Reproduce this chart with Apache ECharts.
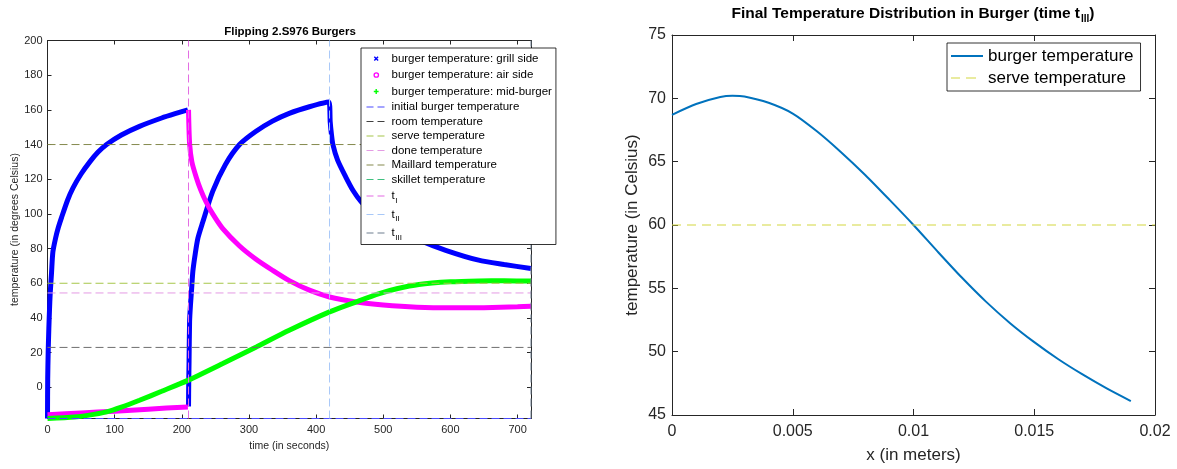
<!DOCTYPE html>
<html><head><meta charset="utf-8">
<script src="https://cdn.jsdelivr.net/npm/echarts@6/dist/echarts.min.js"></script>
<style>html,body{margin:0;padding:0;background:#fff}#c{width:1177px;height:469px}</style>
</head><body><div id="c"></div>
<script>
// ---------- Left chart data: Flipping 2.S976 Burgers ----------
const grillTime1 = [0,0.3,1,2,3,4,6,8,12,16,21,30,38,50,63,75,88,110,137,170,190,209];
const grillTemp1 = [-18,5,20,34,45,54,66,78,86,92,98,108,115,123,130,135.5,140,145.5,150.5,155.3,157.8,160];
const grillTime2 = [210,210.3,210.8,211.6,213,214.5,216.5,220,224,231,246,265,286,310,335,360,390,419,421,422.5,425,432,444,455,467,480,500,525,553,593,642,680,720];
const grillTemp2 = [-11,2,15,38,48,56,67,77,86,95,113,128.5,140,147.5,153.5,158,161.8,164.5,153,147,140,131,121.4,113.5,107,102,96.5,90.5,85,79,73.3,70.8,68.5];
const airTime1 = [0,50,100,150,209];
const airTemp1 = [-15.8,-14.8,-13.8,-12.6,-11.3];
const airTime2 = [210,211.6,215,221.6,228,236,246,261,286,310,335,360,390,420,460,500,550,600,650,700,720];
const airTemp2 = [160,140.6,130,121,114,107,100,91.5,81.5,74,67.5,61.5,56,52.1,49.2,47.5,46.2,45.8,45.9,46.4,46.7];
const midTime = [0,40,60,88,110,137,170,209,261,311,360,420,460,494,520,553,600,642,680,720];
const midTemp = [-18,-17.1,-16.2,-14.2,-11.5,-7.5,-2.3,4,13.7,23.3,32.9,43.5,49.3,54,56.8,59.3,60.8,61.3,61.4,61.3];
const initialTemp = -18, roomTemp = 23, serveTemp = 60, doneTemp = 54.4, maillardTemp = 140, skilletTemp = 230;
const tI = 210, tII = 420, tIII = 720;
const timeMax = 720, tempMin = -18, tempMax = 200;
const tempTicks = [0,20,40,60,80,100,120,140,160,180,200];
const leftLegendNames = ['burger temperature: grill side','burger temperature: air side','burger temperature: mid-burger',
  'initial burger temperature','room temperature','serve temperature','done temperature','Maillard temperature',
  'skillet temperature','t_I','t_II','t_III'];

// ---------- Right chart data: Final Temperature Distribution ----------
const xPositions = [0,0.001,0.002,0.0025,0.003,0.004,0.005,0.006,0.007,0.008,0.009,0.01,0.011,0.012,0.013,0.014,0.015,0.016,0.017,0.018,0.019];
const finalTemps = [68.7,69.55,70.1,70.2,70.15,69.65,68.8,67.4,65.75,63.95,62.0,60.0,57.9,55.85,53.95,52.25,50.75,49.4,48.2,47.1,46.1];
const rightServeTemp = 60;

const FONT = '"Liberation Sans", Helvetica, Arial, sans-serif';
const AX = '#262626';
function zip(a, b) { return a.map((v, i) => [v, b[i]]); }
function hline(v, x0, x1) { return [[x0, v], [x1, v]]; }
function vline(v, y0, y1) { return [[v, y0], [v, y1]]; }

const colors = {
  grill: '#0000ff', air: '#ff00ff', mid: '#00ff00',
  initial: '#4a4aff', room: '#6e6e6e', serve: '#a6c64a', done: '#e49be4',
  maillard: '#858a4e', skillet: '#3fbf7f', tI: '#e36be3', tII: '#a8c8f8', tIII: '#6f7f90',
  burger: '#0072bd', serveR: '#d4d840'
};

const dashIcon = 'path://M0,0M20,10M0,4.5H7V5.5H0Z M11,4.5H18V5.5H11Z';
function axisCommon(extra) {
  return Object.assign({
    axisLine: { show: true, onZero: false, lineStyle: { color: AX, width: 1 } },
    axisTick: { show: true, inside: true, length: 4, lineStyle: { color: AX } },
    splitLine: { show: false }
  }, extra);
}

const curve = (name, data, color) => ({
  name, type: 'line', data, xAxisIndex: 0, yAxisIndex: 0, symbol: 'none', silent: true,
  smooth: 0.25, lineStyle: { color, width: 5 }, itemStyle: { color }
});
const dashedSeries = (name, data, color) => ({
  name, type: 'line', data, xAxisIndex: 0, yAxisIndex: 0, symbol: 'none', silent: true,
  lineStyle: { color, width: 1, type: [8, 4] }, itemStyle: { color }
});

const option = {
  animation: false,
  backgroundColor: '#fff',
  textStyle: { fontFamily: FONT },
  title: [
    { text: 'Flipping 2.S976 Burgers', left: 290, top: 32, textAlign: 'center', textVerticalAlign: 'middle', padding: 0,
      textStyle: { fontFamily: FONT, fontSize: 11.5, fontWeight: 'bold', color: '#000' } },
    { text: '{b|Final Temperature Distribution in Burger (time t}{s|III}{b|)}', left: 913, top: 14, textAlign: 'center', textVerticalAlign: 'middle', padding: 0,
      textStyle: { fontFamily: FONT, rich: {
        b: { fontFamily: FONT, fontSize: 15.5, fontWeight: 'bold', color: '#000', lineHeight: 18 },
        s: { fontFamily: FONT, fontSize: 10, fontWeight: 'bold', color: '#000', lineHeight: 10, padding: [11, 0, 0, 1] } } } }
  ],
  grid: [
    { left: 47.5, top: 40.5, width: 483.5, height: 378, containLabel: false },
    { left: 672, top: 35, width: 483, height: 382, containLabel: false }
  ],
  xAxis: [
    axisCommon({ gridIndex: 0, type: 'value', position: 'bottom', min: 0, max: timeMax, interval: 100,
      axisLabel: { fontSize: 11, color: AX, margin: 6, showMaxLabel: false, fontFamily: FONT },
      name: 'time (in seconds)', nameLocation: 'middle', nameGap: 21,
      nameTextStyle: { fontSize: 10.5, color: AX, fontFamily: FONT } }),
    axisCommon({ gridIndex: 0, type: 'value', position: 'top', min: 0, max: timeMax, interval: 100, axisLabel: { show: false } }),
    axisCommon({ gridIndex: 1, type: 'value', position: 'bottom', min: 0, max: 0.02, interval: 0.005,
      axisTick: { show: true, inside: true, length: 6, lineStyle: { color: AX } },
      axisLabel: { fontSize: 16, color: AX, margin: 9, fontFamily: FONT },
      name: 'x (in meters)', nameLocation: 'middle', nameGap: 32,
      nameTextStyle: { fontSize: 17, color: AX, fontFamily: FONT } }),
    axisCommon({ gridIndex: 1, type: 'value', position: 'top', min: 0, max: 0.02, interval: 0.005,
      axisTick: { show: true, inside: true, length: 6, lineStyle: { color: AX } }, axisLabel: { show: false } })
  ],
  yAxis: [
    axisCommon({ gridIndex: 0, type: 'value', position: 'left', min: tempMin, max: tempMax,
      axisTick: { show: true, inside: true, length: 4, lineStyle: { color: AX }, customValues: tempTicks },
      axisLabel: { fontSize: 11, color: AX, margin: 5, fontFamily: FONT, customValues: tempTicks },
      name: 'temperature (in degrees Celsius)', nameLocation: 'middle', nameGap: 27, nameRotate: 90,
      nameTextStyle: { fontSize: 10.5, color: AX, fontFamily: FONT } }),
    axisCommon({ gridIndex: 0, type: 'value', position: 'right', min: tempMin, max: tempMax,
      axisTick: { show: true, inside: true, length: 4, lineStyle: { color: AX }, customValues: tempTicks },
      axisLabel: { show: false } }),
    axisCommon({ gridIndex: 1, type: 'value', position: 'left', min: 45, max: 75, interval: 5,
      axisTick: { show: true, inside: true, length: 6, lineStyle: { color: AX } },
      axisLabel: { fontSize: 16, color: AX, margin: 6, fontFamily: FONT },
      name: 'temperature (in Celsius)', nameLocation: 'middle', nameGap: 31, nameRotate: 90,
      nameTextStyle: { fontSize: 17, color: AX, fontFamily: FONT } }),
    axisCommon({ gridIndex: 1, type: 'value', position: 'right', min: 45, max: 75, interval: 5,
      axisTick: { show: true, inside: true, length: 6, lineStyle: { color: AX } }, axisLabel: { show: false } })
  ],
  legend: [
    { orient: 'vertical', left: 361, top: 48, itemWidth: 20, itemHeight: 10, itemGap: 1.5,
      padding: [3, 4, 3, 3], borderColor: '#000', borderWidth: 0.8, backgroundColor: '#fff', borderRadius: 0,
      selectedMode: false,
      textStyle: { fontFamily: FONT, fontSize: 11.5, color: '#000', lineHeight: 13,
        rich: { t: { fontFamily: FONT, fontSize: 11.5, color: '#000', lineHeight: 13 },
                s: { fontFamily: FONT, fontSize: 8, color: '#000', lineHeight: 8, padding: [9, 0, 0, 0.5] } } },
      formatter: function (name) {
        const m = name.match(/^t_(I+)$/);
        return m ? '{t|t}{s|' + m[1] + '}' : name;
      },
      data: [
        { name: leftLegendNames[0], icon: 'path://M0,0M20,10M7.8,3.2L11.6,7M11.6,3.2L7.8,7', itemStyle: { color: 'none', borderColor: colors.grill, borderWidth: 1.4 } },
        { name: leftLegendNames[1], icon: 'path://M0,0M20,10M12,5A2.2,2.2,0,1,1,7.6,5A2.2,2.2,0,1,1,12,5Z', itemStyle: { color: 'none', borderColor: colors.air, borderWidth: 1.3 } },
        { name: leftLegendNames[2], icon: 'path://M0,0M20,10M9.7,2.6L9.7,7.4M7.3,5L12.1,5', itemStyle: { color: 'none', borderColor: colors.mid, borderWidth: 1.4 } },
        { name: leftLegendNames[3], icon: dashIcon, itemStyle: { color: colors.initial, borderWidth: 0 } },
        { name: leftLegendNames[4], icon: dashIcon, itemStyle: { color: '#404040', borderWidth: 0 } },
        { name: leftLegendNames[5], icon: dashIcon, itemStyle: { color: colors.serve, borderWidth: 0 } },
        { name: leftLegendNames[6], icon: dashIcon, itemStyle: { color: colors.done, borderWidth: 0 } },
        { name: leftLegendNames[7], icon: dashIcon, itemStyle: { color: colors.maillard, borderWidth: 0 } },
        { name: leftLegendNames[8], icon: dashIcon, itemStyle: { color: colors.skillet, borderWidth: 0 } },
        { name: leftLegendNames[9], icon: dashIcon, itemStyle: { color: colors.tI, borderWidth: 0 } },
        { name: leftLegendNames[10], icon: dashIcon, itemStyle: { color: colors.tII, borderWidth: 0 } },
        { name: leftLegendNames[11], icon: dashIcon, itemStyle: { color: colors.tIII, borderWidth: 0 } }
      ] },
    { orient: 'vertical', left: 947, top: 43, itemWidth: 32, itemHeight: 10, itemGap: 2,
      padding: [3, 7, 3, 4], borderColor: '#000', borderWidth: 0.8, backgroundColor: '#fff', borderRadius: 0,
      selectedMode: false,
      textStyle: { fontFamily: FONT, fontSize: 17, color: '#000', lineHeight: 20 },
      data: [
        { name: 'burger temperature', icon: 'path://M0,0M32,10M0,4H32V6H0Z', itemStyle: { color: colors.burger, borderWidth: 0 } },
        { name: 'serve temperature', icon: 'path://M0,0M32,10M0,4.5H9V5.5H0Z M15,4.5H25V5.5H15Z', itemStyle: { color: colors.serveR, borderWidth: 0 } }
      ] }
  ],
  series: [
    // grill side and air side: two branches each (before and after the flip at t_I), same legend name
    curve(leftLegendNames[0], zip(grillTime1, grillTemp1), colors.grill),
    curve(leftLegendNames[0], zip(grillTime2, grillTemp2), colors.grill),
    curve(leftLegendNames[1], zip(airTime1, airTemp1), colors.air),
    curve(leftLegendNames[1], zip(airTime2, airTemp2), colors.air),
    curve(leftLegendNames[2], zip(midTime, midTemp), colors.mid),
    dashedSeries(leftLegendNames[3], hline(initialTemp, 0, timeMax), colors.initial),
    dashedSeries(leftLegendNames[4], hline(roomTemp, 0, timeMax), colors.room),
    dashedSeries(leftLegendNames[5], hline(serveTemp, 0, timeMax), colors.serve),
    dashedSeries(leftLegendNames[6], hline(doneTemp, 0, timeMax), colors.done),
    dashedSeries(leftLegendNames[7], hline(maillardTemp, 0, timeMax), colors.maillard),
    dashedSeries(leftLegendNames[8], hline(skilletTemp, 0, timeMax), colors.skillet),
    dashedSeries(leftLegendNames[9], vline(tI, tempMin, tempMax), colors.tI),
    dashedSeries(leftLegendNames[10], vline(tII, tempMin, tempMax), colors.tII),
    dashedSeries(leftLegendNames[11], vline(tIII, tempMin, tempMax), colors.tIII),
    { name: 'burger temperature', type: 'line', data: zip(xPositions, finalTemps), xAxisIndex: 2, yAxisIndex: 2,
      symbol: 'none', smooth: 0.25, lineStyle: { color: colors.burger, width: 2 }, itemStyle: { color: colors.burger } },
    { name: 'serve temperature', type: 'line', data: hline(rightServeTemp, 0, 0.02), xAxisIndex: 2, yAxisIndex: 2,
      symbol: 'none', lineStyle: { color: colors.serveR, width: 1.2, type: [9, 6] }, itemStyle: { color: colors.serveR } }
  ]
};

const chart = echarts.init(document.getElementById('c'), null, { renderer: 'canvas' });
chart.setOption(option);
</script></body></html>
